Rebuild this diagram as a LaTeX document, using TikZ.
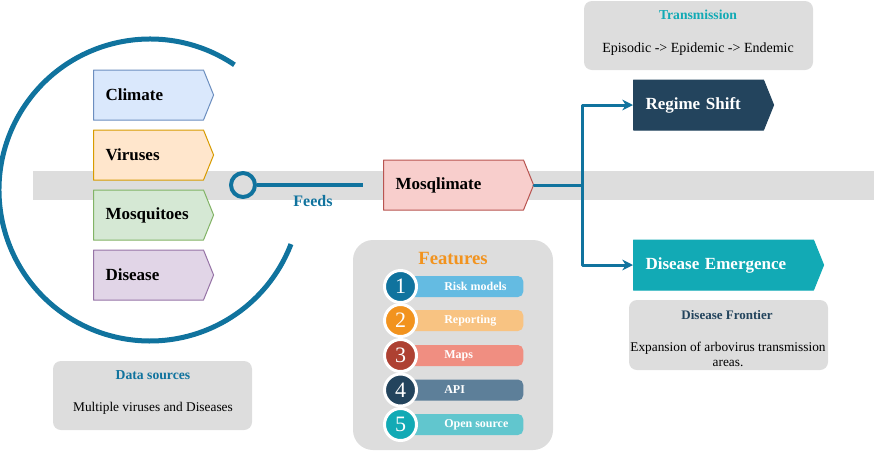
\documentclass[tikz,border=0pt]{standalone}
\usepackage{fontspec}
\setmainfont{Liberation Serif}
\usetikzlibrary{arrows.meta,shapes.symbols}
\definecolor{mqblue}{HTML}{10739E}
\definecolor{mqorange}{HTML}{F2931E}
\definecolor{mqred}{HTML}{AE4132}
\definecolor{mqnavy}{HTML}{23445D}
\definecolor{mqteal}{HTML}{12AAB5}
\definecolor{barblue}{HTML}{64BBE2}
\definecolor{barorange}{HTML}{F8C382}
\definecolor{barred}{HTML}{F08E81}
\definecolor{barnavy}{HTML}{5D7F99}
\definecolor{barteal}{HTML}{61C6CE}
\definecolor{climfill}{HTML}{DAE8FC}
\definecolor{climline}{HTML}{6C8EBF}
\definecolor{virfill}{HTML}{FFE6CC}
\definecolor{virline}{HTML}{D79B00}
\definecolor{mosfill}{HTML}{D5E8D4}
\definecolor{mosline}{HTML}{82B366}
\definecolor{disfill}{HTML}{E1D5E7}
\definecolor{disline}{HTML}{9673A6}
\definecolor{mqlfill}{HTML}{F8CECC}
\definecolor{mqlline}{HTML}{B85450}
\definecolor{panelgray}{HTML}{DDDDDD}
\begin{document}
\begin{tikzpicture}[line cap=round,line join=round,>={Stealth[length=8pt,width=8pt,inset=2.5pt]},x=0.75pt,y=-0.75pt,
		tag/.style={signal,signal to=east,signal pointer angle=136,minimum height=37.5pt,inner xsep=9pt,align=left,anchor=west,line width=0.75pt,font=\fontsize{12.75}{15}\selectfont\bfseries},
		panel/.style={rectangle,rounded corners=6pt,fill=panelgray,draw=none},
		bar/.style={rectangle,rounded corners=4pt,minimum width=92.25pt,minimum height=15.75pt,anchor=west},
		num/.style={circle,draw=white,line width=2.25pt,minimum size=24pt,inner sep=0pt,text=white,font=\fontsize{16.5}{18}\selectfont},
		lbl/.style={anchor=west,inner sep=0pt,text=white,font=\fontsize{9}{11}\selectfont\bfseries}]
			\useasboundingbox (0,0) rectangle (874,451);
			\fill [panelgray] (33,171) rectangle (874,200);
			\draw [mqblue,line width=3.75pt,line cap=butt] (150,190) ++(-56:151) arc (-56:-339:151);
			\node[tag,fill=climfill,draw=climline,text width=64.5pt] (climate) at (93,95) {Climate};
			\node[tag,fill=virfill,draw=virline,text width=64.5pt] (viruses) at (93,155) {Viruses};
			\node[tag,fill=mosfill,draw=mosline,text width=64.5pt] (mosquitoes) at (93,215) {Mosquitoes};
			\node[tag,fill=disfill,draw=disline,text width=64.5pt] (disease) at (93,275) {Disease};
			\node[circle,draw=mqblue,line width=3pt,minimum size=18pt,inner sep=0pt] (feeddot) at (243,185) {};
			\coordinate (feedend) at (363,185);
			\draw [mqblue,line width=3pt,line cap=butt] (feeddot) -- (feedend);
			\node[text=mqblue,font=\fontsize{12}{14}\selectfont\bfseries] (feeds) at (313,201) {Feeds};
			\node[tag,fill=mqlfill,draw=mqlline,text width=87pt] (mosqlimate) at (383,185) {Mosqlimate};
			\node[tag,fill=mqnavy,draw=mqnavy,text=white,text width=79.5pt] (regime) at (633,105) {Regime Shift};
			\node[tag,fill=mqteal,draw=mqteal,text=white,text width=117pt] (emergence) at (633,265) {Disease Emergence};
			\coordinate (split) at (582,185);
			\draw [mqblue,line width=2.25pt,->] (mosqlimate.east) -- (split) |- (regime.west);
			\draw [mqblue,line width=2.25pt,->] (split) |- (emergence.west);
			\node[panel,minimum width=171.75pt,minimum height=51.75pt] (transbox) at (698.5,35.5) {};
			\node[text=mqteal,font=\fontsize{10.25}{12}\selectfont\bfseries] (transtitle) at (698,15) {Transmission};
			\node[font=\fontsize{10.5}{12}\selectfont] (transtext) at (698,49) {Episodic -> Epidemic -> Endemic};
			\node[panel,minimum width=149.25pt,minimum height=52.5pt] (frontbox) at (728.5,335) {};
			\node[text=mqnavy,font=\fontsize{9.75}{12}\selectfont\bfseries] (fronttitle) at (727,315) {Disease Frontier};
			\node[align=center,font=\fontsize{10}{11.25}\selectfont] (fronttext) at (728,354.5) {Expansion of arbovirus transmission\\areas.};
			\node[panel,minimum width=149.25pt,minimum height=51.75pt] (databox) at (152.5,395.5) {};
			\node[text=mqblue,font=\fontsize{10.25}{12}\selectfont\bfseries] (datatitle) at (153,375) {Data sources};
			\node[font=\fontsize{10}{12}\selectfont] (datatext) at (153,408) {Multiple viruses and Diseases};
			\node[panel,rounded corners=15pt,minimum width=150pt,minimum height=157.5pt] (featbox) at (453,345) {};
			\node[text=mqorange,font=\fontsize{14}{16}\selectfont\bfseries] (feattitle) at (453,258) {Features};
			\node[bar,fill=barblue] (bar1) at (400,286.5) {};
			\node[num,fill=mqblue] (num1) at (400.5,286.5) {1};
			\node[lbl] (lbl1) at (444,286.5) {Risk models};
			\node[bar,fill=barorange] (bar2) at (400,320.5) {};
			\node[num,fill=mqorange] (num2) at (400.5,320.5) {2};
			\node[lbl] (lbl2) at (444,320.5) {Reporting};
			\node[bar,fill=barred] (bar3) at (400,355.5) {};
			\node[num,fill=mqred] (num3) at (400.5,355.5) {3};
			\node[lbl] (lbl3) at (444,355.5) {Maps};
			\node[bar,fill=barnavy] (bar4) at (400,390) {};
			\node[num,fill=mqnavy] (num4) at (400.5,390) {4};
			\node[lbl] (lbl4) at (444,390) {API};
			\node[bar,fill=barteal] (bar5) at (400,424.5) {};
			\node[num,fill=mqteal] (num5) at (400.5,424.5) {5};
			\node[lbl] (lbl5) at (444,424.5) {Open source};
		\end{tikzpicture}
\end{document}
